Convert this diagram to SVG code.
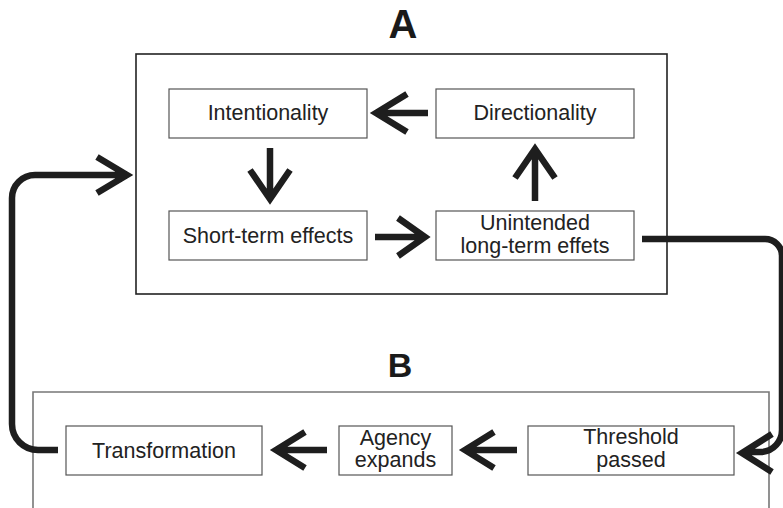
<svg xmlns="http://www.w3.org/2000/svg" width="783" height="508" viewBox="0 0 783 508">
<style>
.box{fill:#fff;stroke:#555;stroke-width:1.2}
.frame{fill:none;stroke:#222;stroke-width:1.6}
.frameB{fill:none;stroke:#777;stroke-width:1.6}
.t{font-family:"Liberation Sans",Arial,sans-serif;font-size:21.5px;fill:#222;text-anchor:middle}
.h{font-family:"Liberation Sans",Arial,sans-serif;font-weight:bold;fill:#1a1a1a;text-anchor:middle}
.c{fill:none;stroke:#1e1e1e;stroke-width:6.5;stroke-linejoin:miter;stroke-linecap:butt}
</style>
<rect width="783" height="508" fill="#fff"/>
<g id="frameA">
<rect class="frame" x="136" y="54" width="531" height="240"/>
<text class="h" x="403" y="38" font-size="40">A</text>
</g>
<g id="frameB">
<path class="frameB" d="M33,520 V392 H769 V520"/>
<text class="h" x="400" y="377" font-size="34">B</text>
</g>
<g id="intentionality"><rect class="box" x="169" y="89" width="198" height="49"/><text class="t" x="268" y="120">Intentionality</text></g>
<g id="directionality"><rect class="box" x="436" y="89" width="198" height="49"/><text class="t" x="535" y="120">Directionality</text></g>
<g id="short-term"><rect class="box" x="169" y="211" width="198" height="49"/><text class="t" x="268" y="243">Short-term effects</text></g>
<g id="unintended"><rect class="box" x="436" y="211" width="198" height="49"/><text class="t" x="535" y="230">Unintended</text><text class="t" x="535" y="253">long-term effets</text></g>
<g id="transformation"><rect class="box" x="66" y="426" width="196" height="49"/><text class="t" x="164" y="458">Transformation</text></g>
<g id="agency"><rect class="box" x="339" y="426" width="113" height="49"/><text class="t" x="395.5" y="445">Agency</text><text class="t" x="395.5" y="467">expands</text></g>
<g id="threshold"><rect class="box" x="528" y="426" width="206" height="49"/><text class="t" x="631" y="444">Threshold</text><text class="t" x="631" y="467">passed</text></g>
<g id="connectors">
<path class="c" d="M428,113 H379 M407,94 L376,113 L407,132"/>
<path class="c" d="M270,148 V196 M250,170 L270,199 L290,170"/>
<path class="c" d="M375,237 H422 M398,218 L425,237 L398,256"/>
<path class="c" d="M535,201 V152 M515,178 L535,149 L555,178"/>
<path class="c" d="M327,450 H280 M305,432 L276,450 L305,468"/>
<path class="c" d="M517,450 H470 M494,432 L465,450 L494,468"/>
<path class="c" d="M642,239 H765 A17,17 0 0 1 782,256 V430 A22,22 0 0 1 762,452 H745 M772,434 L742,453 L772,472"/>
<path class="c" d="M58,450 H38 A26,26 0 0 1 12,424 V198 A23,23 0 0 1 35,175 H124 M97,157 L127,175 L97,193"/>
</g>
</svg>
